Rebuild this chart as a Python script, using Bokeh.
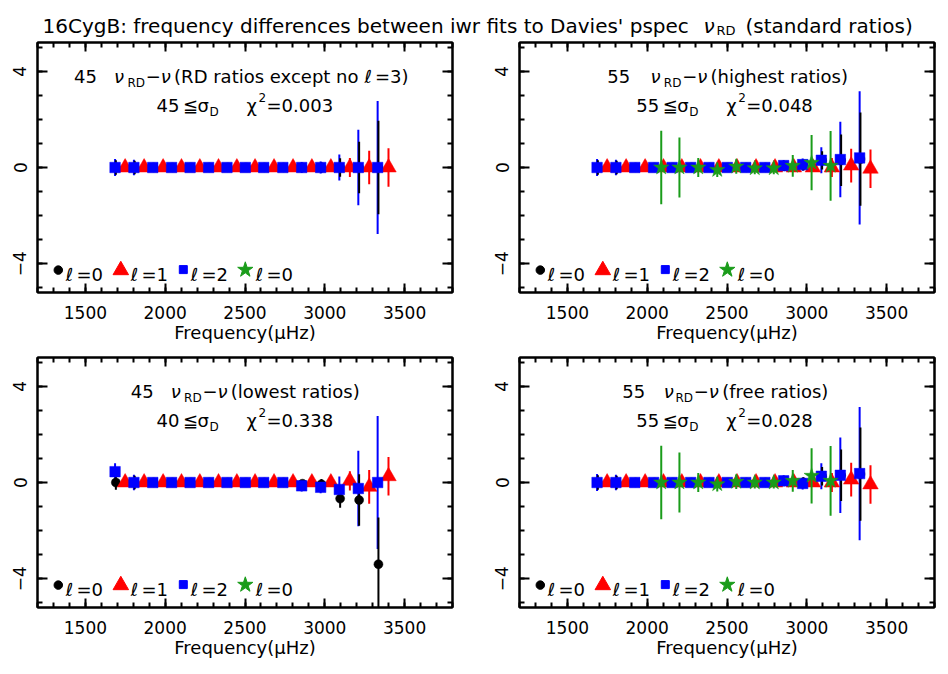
import numpy as np
from bokeh.plotting import figure
from bokeh.models import Range1d, FixedTicker, LinearAxis, ColumnDataSource
from bokeh.layouts import column, row
from bokeh.embed import file_html
from bokeh.resources import INLINE
from bokeh.core.properties import value

# ---------------- data ----------------
freq_l0 = [1691, 1809, 1927, 2045, 2161, 2277, 2392, 2507, 2622, 2742, 2860, 2979, 3096, 3215, 3336]
freq_l1 = [1749, 1868, 1987, 2102, 2217, 2334, 2449, 2563, 2682, 2801, 2919, 3038, 3157, 3278, 3399]
freq_l2 = [1686, 1804, 1922, 2040, 2156, 2272, 2387, 2502, 2617, 2737, 2855, 2974, 3091, 3210, 3331]
freq_l3 = [2088, 2202, 2320, 2439, 2558, 2674, 2793, 2912, 3030, 3149]

err_l0 = [0.30, 0.28, 0.15, 0.12, 0.10, 0.10, 0.10, 0.10, 0.10, 0.12, 0.15, 0.22, 0.38, 1.07, 1.94]
err_l1 = [0.15, 0.12, 0.10, 0.10, 0.10, 0.10, 0.10, 0.10, 0.10, 0.10, 0.12, 0.18, 0.40, 0.70, 0.80]
err_l2 = [0.35, 0.32, 0.15, 0.12, 0.10, 0.10, 0.10, 0.10, 0.10, 0.12, 0.23, 0.25, 0.54, 1.57, 2.77]
err_l3 = [1.53, 1.25, 0.40, 0.30, 0.30, 0.25, 0.25, 0.45, 1.15, 1.45]

# panel 1: RD ratios except no l=3
p1_l0 = [0.0, 0.0, 0.0, 0.0, 0.0, 0.0, 0.0, 0.0, 0.0, 0.0, 0.0, 0.0, 0.0, 0.0, 0.0]
p1_l1 = [0.0, 0.0, 0.0, 0.0, 0.0, 0.0, 0.0, 0.0, 0.0, 0.0, 0.0, 0.0, 0.0, 0.0, 0.0]
p1_l2 = [0.0, 0.0, 0.0, 0.0, 0.0, 0.0, 0.0, 0.0, 0.0, 0.0, 0.0, 0.0, 0.0, 0.0, 0.0]
# panel 2: highest ratios
p2_l0 = [0.0, 0.0, 0.0, 0.0, 0.0, 0.0, 0.0, 0.0, 0.0, 0.0, 0.05, 0.10, 0.30, 0.30, 0.35]
p2_l1 = [0.0, 0.0, 0.0, 0.0, 0.0, 0.0, 0.0, 0.0, 0.0, 0.0, 0.0, 0.0, 0.0, 0.08, -0.05]
p2_l2 = [0.0, 0.0, 0.0, 0.0, 0.0, 0.0, 0.0, 0.0, 0.0, 0.0, 0.08, 0.12, 0.30, 0.33, 0.40]
p2_l3 = [0.0, 0.0, 0.0, -0.10, 0.04, -0.03, -0.03, 0.07, 0.20, 0.07]
# panel 3: lowest ratios
p3_l0 = [0.0, 0.0, 0.0, 0.0, 0.0, 0.0, 0.0, 0.0, 0.0, 0.0, -0.05, -0.07, -0.67, -0.73, -3.40]
p3_l1 = [0.0, 0.0, 0.0, 0.0, 0.0, 0.0, 0.0, 0.0, 0.0, 0.0, 0.0, 0.0, 0.07, -0.18, 0.26]
p3_l2 = [0.45, 0.0, 0.0, 0.0, 0.0, 0.0, 0.0, 0.0, 0.0, 0.0, -0.14, -0.20, -0.29, -0.25, 0.0]
# panel 4: free ratios
p4_l0 = [0.0, 0.0, 0.0, 0.0, 0.0, 0.0, 0.0, 0.0, 0.0, 0.0, 0.05, 0.0, 0.26, 0.30, 0.35]
p4_l1 = [0.0, 0.0, 0.0, 0.0, 0.0, 0.0, 0.0, 0.0, 0.0, 0.0, 0.0, 0.0, 0.0, 0.12, -0.08]
p4_l2 = [0.0, 0.0, 0.0, 0.0, 0.0, 0.0, 0.0, 0.0, 0.0, 0.0, 0.07, -0.04, 0.26, 0.30, 0.37]
p4_l3 = [0.0, 0.0, 0.0, -0.07, 0.03, 0.0, 0.0, 0.07, 0.28, 0.07]

x_ticks = [1500, 2000, 2500, 3000, 3500]
x_minor = [1200, 1300, 1400, 1500, 1600, 1700, 1800, 1900, 2000, 2100, 2200, 2300, 2400,
           2500, 2600, 2700, 2800, 2900, 3000, 3100, 3200, 3300, 3400, 3500, 3600, 3700, 3800]
y_ticks = [-4, 0, 4]
y_minor = [-5, -4, -3, -2, -1, 0, 1, 2, 3, 4, 5]

title_main = "16CygB: frequency differences between iwr fits to Davies' pspec"
title_tail = "(standard  ratios)"
x_label = "Frequency(\u03bcHz)"

# ---------------- styling ----------------
FONT = "DejaVu Sans"
XR = (1200, 3800)
YR = (-5.2, 5.2)
FW, FH = 415, 250
BLACK, RED, BLUE, GREEN = "black", "#ff0000", "#0000ff", "#1a9c1a"


def fx(dx):
    return XR[0] + dx * (XR[1] - XR[0]) / FW


def fy(dy):
    return YR[1] - dy * (YR[1] - YR[0]) / FH


def txt(p, dx, dy, s, size="18px", style="normal", color="black"):
    p.text(x=[fx(dx)], y=[fy(dy)], text=[s], text_font=value(FONT), text_font_size=size,
           text_font_style=style, text_baseline="alphabetic", text_align="left",
           text_color=color)


def axis(p, loc, ticks, minor, labels, maj_len, min_len):
    ax = LinearAxis(ticker=FixedTicker(ticks=ticks, minor_ticks=minor))
    ax.major_tick_in = maj_len
    ax.major_tick_out = 0
    ax.minor_tick_in = min_len
    ax.minor_tick_out = 0
    ax.axis_line_width = 2
    ax.major_tick_line_width = 2
    ax.minor_tick_line_width = 2
    ax.axis_line_color = "black"
    ax.major_tick_line_color = "black"
    ax.minor_tick_line_color = "black"
    ax.major_label_text_font = FONT
    ax.major_label_text_color = "black"
    if labels:
        ax.major_label_text_font_size = "17px"
    else:
        ax.major_label_overrides = {t: "" for t in ticks}
        ax.major_label_text_font_size = "1px"
        ax.major_label_standoff = 0
    p.add_layout(ax, loc)
    return ax


def series(freqs, vals, errs):
    v = np.array(vals, dtype=float)
    e = np.array(errs, dtype=float)
    return ColumnDataSource(dict(x=freqs, y=v, lo=v - e, hi=v + e))


def bars(p, src, color):
    p.segment(x0="x", y0="lo", x1="x", y1="hi", source=src, line_color=color, line_width=2)


def marks(p, src, color, marker, size):
    p.scatter(x="x", y="y", source=src, marker=marker, size=size,
              fill_color=color, line_color=color, line_width=0.5)


def panel(left_b, right_b, bottom_b, l0, l1, l2, l3, line1, line2):
    p = figure(frame_width=FW, frame_height=FH, x_range=Range1d(*XR), y_range=Range1d(*YR),
               x_axis_location=None, y_axis_location=None, toolbar_location=None,
               output_backend="svg", min_border_left=left_b, min_border_right=right_b,
               min_border_top=4, min_border_bottom=bottom_b)
    p.outline_line_color = "black"
    p.outline_line_width = 2
    p.grid.grid_line_color = None
    p.background_fill_color = "white"
    p.border_fill_color = "white"

    bx = axis(p, "below", x_ticks, x_minor, True, 9, 5)
    bx.major_label_standoff = 13
    bx.axis_label = x_label
    bx.axis_label_text_font = FONT
    bx.axis_label_text_font_size = "18px"
    bx.axis_label_text_font_style = "normal"
    bx.axis_label_text_color = "black"
    bx.axis_label_standoff = 0
    ly = axis(p, "left", y_ticks, y_minor, True, 10, 5)
    ly.major_label_orientation = "vertical"
    ly.major_label_standoff = 11
    axis(p, "above", x_ticks, x_minor, False, 9, 5)
    axis(p, "right", y_ticks, y_minor, False, 10, 5)

    s0 = series(freq_l0, l0, err_l0)
    s1 = series(freq_l1, l1, err_l1)
    s2 = series(freq_l2, l2, err_l2)
    bars(p, s2, BLUE)
    bars(p, s0, BLACK)
    marks(p, s0, BLACK, "circle", 9)
    bars(p, s1, RED)
    marks(p, s1, RED, "triangle", 15.5)
    marks(p, s2, BLUE, "square", 10.5)
    if l3 is not None:
        s3 = series(freq_l3, l3, err_l3)
        bars(p, s3, GREEN)
        marks(p, s3, GREEN, "star", 16)

    # annotation lines: (text, dx, role)
    for lines, base in ((line1, 33.5), (line2, 63.0)):
        for s, dx, role in lines:
            if role == "m":
                txt(p, dx, base, s, "18px")
            elif role == "i":
                txt(p, dx, base, s, "18px", "italic")
            elif role == "s":
                txt(p, dx, base + 6.5, s, "12px")
            elif role == "u":
                txt(p, dx, base - 8.0, s, "12px")

    # key
    p.scatter(x=[fx(20.8)], y=[fy(227.6)], marker="circle", size=8.5, color=BLACK)
    p.scatter(x=[fx(83.3)], y=[fy(227.7)], marker="triangle", size=15.5, color=RED)
    p.scatter(x=[fx(145.8)], y=[fy(227.1)], marker="square", size=8, color=BLUE)
    p.scatter(x=[fx(207.8)], y=[fy(227.3)], marker="star", size=16, color=GREEN)
    for ldx, edx, lab in ((28.3, 39.0, "=0"), (93.3, 104.0, "=1"), (153.3, 164.0, "=2"), (218.3, 229.0, "=0")):
        txt(p, ldx, 231.6, "\u2113", "18px", "italic")
        txt(p, edx, 231.6, lab, "18px")
    return p


def stat_line(n, chi, shift=0.0):
    return [(n, 119.0 + shift, "m"), ("\u2266", 145.5 + shift, "m"), ("\u03c3", 160.0 + shift, "m"),
            ("D", 172.0 + shift, "s"), ("\u03c7", 209.0 + shift, "m"), ("2", 221.0 + shift, "u"),
            ("=" + chi, 229.0 + shift, "m")]


tl = panel(37, 38, 61, p1_l0, p1_l1, p1_l2, None,
           [("45", 36.6, "m"), ("\u03bd", 76.6, "i"), ("RD", 90.0, "s"), ("\u2212", 108.3, "m"),
            ("\u03bd", 123.3, "i"), ("(RD ratios except no", 136.6, "m"), ("\u2113", 327.0, "i"),
            ("=3)", 337.5, "m")],
           stat_line("45", "0.003"))
tr = panel(29, 10, 61, p2_l0, p2_l1, p2_l2, p2_l3,
           [("55", 87.7, "m"), ("\u03bd", 131.0, "i"), ("RD", 144.3, "s"), ("\u2212", 162.7, "m"),
            ("\u03bd", 177.7, "i"), ("(highest ratios)", 191.0, "m")],
           stat_line("55", "0.048", -2.3))
bl = panel(37, 38, 60, p3_l0, p3_l1, p3_l2, None,
           [("45", 93.3, "m"), ("\u03bd", 133.3, "i"), ("RD", 146.6, "s"), ("\u2212", 165.0, "m"),
            ("\u03bd", 180.0, "i"), ("(lowest ratios)", 193.3, "m")],
           stat_line("40", "0.338"))
br = panel(29, 10, 60, p4_l0, p4_l1, p4_l2, p4_l3,
           [("55", 102.7, "m"), ("\u03bd", 144.3, "i"), ("RD", 156.0, "s"), ("\u2212", 174.3, "m"),
            ("\u03bd", 189.3, "i"), ("(free ratios)", 202.7, "m")],
           stat_line("55", "0.028", -2.3))

# title strip (x = page px, y = px above the strip's bottom)
tf = figure(frame_width=944, frame_height=38, x_range=Range1d(0, 944), y_range=Range1d(0, 38),
            min_border=0, toolbar_location=None, output_backend="svg",
            x_axis_location=None, y_axis_location=None)
tf.outline_line_color = None
tf.grid.grid_line_color = None


def ttxt(x, y, s, size, style="normal"):
    tf.text(x=[x], y=[y], text=[s], text_font=value(FONT), text_font_size=size,
            text_font_style=style, text_baseline="alphabetic", text_align="left", text_color="black")


ttxt(42, 13, title_main, "20px")
ttxt(703, 13, "\u03bd", "20px", "italic")
ttxt(716, 8, "RD", "13px")
ttxt(745, 13, title_tail, "20px")

layout = column(tf, row(tl, tr), row(bl, br))
open("out.html", "w").write(file_html(layout, INLINE))
